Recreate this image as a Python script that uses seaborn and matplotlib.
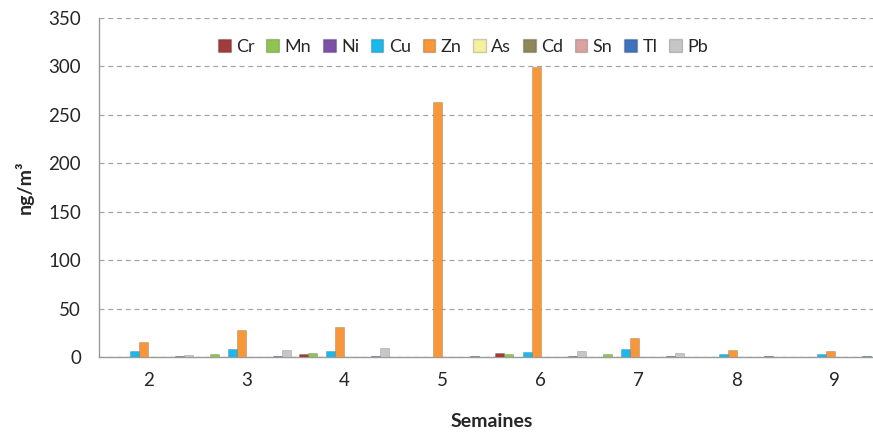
import numpy as np
import pandas as pd
import matplotlib.pyplot as plt
import seaborn as sns
from matplotlib.patches import Patch

# Weekly concentrations (ng/m3)
semaines = ['2', '3', '4', '5', '6', '7', '8', '9']
metaux = ['Cr', 'Mn', 'Ni', 'Cu', 'Zn', 'As', 'Cd', 'Sn', 'Tl', 'Pb']

cr = [0.3, 0.5, 3.5, 0.2, 4.2, 0.5, 0.2, 0.2]
mn = [0.5, 3.0, 4.0, 0.3, 3.2, 3.5, 0.3, 0.3]
ni = [0.2, 0.2, 0.3, 0.1, 0.3, 0.2, 0.1, 0.1]
cu = [6.0, 8.0, 6.5, 0.5, 5.0, 8.5, 3.0, 3.0]
zn = [15.0, 28.0, 31.0, 263.0, 299.0, 20.0, 7.5, 6.5]
as_ = [0.1, 0.1, 0.1, 0.1, 0.1, 0.1, 0.1, 0.1]
cd = [0.1, 0.1, 0.2, 0.1, 0.1, 0.1, 0.1, 0.1]
sn = [0.3, 0.3, 0.4, 0.2, 0.4, 0.3, 0.2, 0.2]
tl = [1.0, 1.0, 1.0, 0.8, 1.0, 1.0, 0.8, 0.8]
pb = [2.0, 7.0, 9.0, 0.3, 6.5, 4.0, 0.3, 0.3]

couleurs = ['#a03c3a', '#8fc450', '#7c4fa8', '#1bb8ec', '#f7973a',
            '#f5f0a0', '#8e8858', '#dba19f', '#3e72bd', '#c6c6c6']

series = [cr, mn, ni, cu, zn, as_, cd, sn, tl, pb]
df = pd.DataFrame({
    'Semaine': np.tile(semaines, len(metaux)),
    'metal': np.repeat(metaux, len(semaines)),
    'valeur': np.concatenate(series),
})

sns.set_style("white")
plt.rcParams['font.family'] = ['Lato', 'DejaVu Sans']

fig = plt.figure(figsize=(8.73, 4.32), dpi=100)
ax = fig.add_axes([99 / 873, 1 - 357 / 432, 785 / 873, 339 / 432])

sns.barplot(data=df, x='Semaine', y='valeur', hue='metal', order=semaines,
            hue_order=metaux, palette=couleurs, saturation=1, width=0.92, ax=ax,
            edgecolor='#00000030', linewidth=0.6, legend=False, zorder=3)

ax.set_ylim(0, 350)
ax.set_yticks(range(0, 351, 50))
ax.set_xlim(-0.5, len(semaines) - 0.5)
ax.yaxis.grid(True, linestyle=(0, (4, 3)), color='#a6a6a6', linewidth=0.9, zorder=0)
ax.xaxis.grid(False)

for s in ['top', 'right']:
    ax.spines[s].set_visible(False)
for s in ['left', 'bottom']:
    ax.spines[s].set_color('#9a9a9a')
    ax.spines[s].set_linewidth(1.0)

# category ticks between groups, labels centered
ax.set_xticks(np.arange(len(semaines)))
ax.set_xticklabels(semaines, fontsize=13.5)
ax.tick_params(axis='x', length=0, pad=11)
ax.set_xticks(np.arange(len(semaines) + 1) - 0.5, minor=True)
ax.tick_params(axis='x', which='minor', length=8, color='#9a9a9a', width=1.0)
ax.tick_params(axis='y', length=5, color='#9a9a9a', width=1.0, labelsize=13.5, pad=8)
for t in ax.get_xticklabels() + ax.get_yticklabels():
    t.set_color('#262626')

ax.set_xlabel('Semaines', fontsize=14, fontweight='bold', labelpad=17)
ax.set_ylabel('ng/m³', fontsize=14, fontweight='bold', labelpad=10)

handles = [Patch(facecolor=c, edgecolor='#00000030') for c in couleurs]
fig.legend(handles, metaux, loc='center', bbox_to_anchor=(463 / 873, 1 - 47 / 432),
           ncol=10, frameon=False, fontsize=13, handlelength=0.7, handleheight=0.7,
           handletextpad=0.3, columnspacing=0.65)

fig.savefig('out.png', dpi=100)
plt.close()
